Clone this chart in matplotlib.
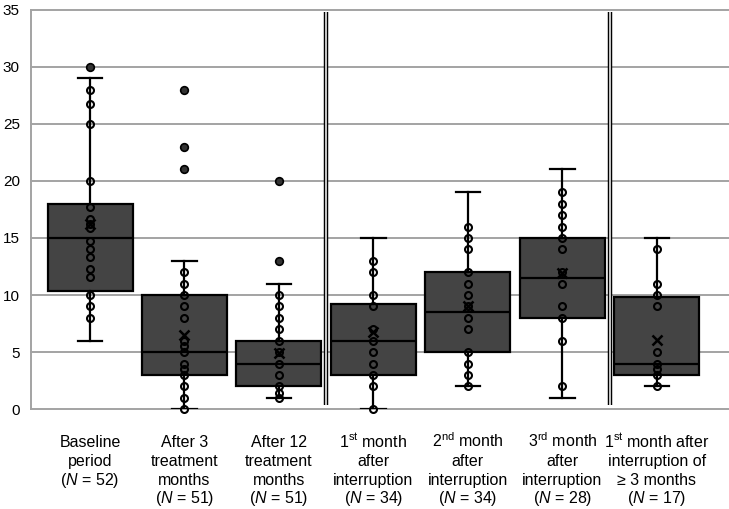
import numpy as np
import matplotlib
matplotlib.use("Agg")
import matplotlib.pyplot as plt

plt.rcParams["font.family"] = ["Liberation Sans", "DejaVu Sans"]
plt.rcParams["mathtext.fontset"] = "custom"
plt.rcParams["mathtext.rm"] = "Liberation Sans"
plt.rcParams["mathtext.it"] = "Liberation Sans:italic"

labels = [
    "Baseline\nperiod\n($N$ = 52)",
    "After 3\ntreatment\nmonths\n($N$ = 51)",
    "After 12\ntreatment\nmonths\n($N$ = 51)",
    "1$^{\\mathrm{st}}$ month\nafter\ninterruption\n($N$ = 34)",
    "2$^{\\mathrm{nd}}$ month\nafter\ninterruption\n($N$ = 34)",
    "3$^{\\mathrm{rd}}$ month\nafter\ninterruption\n($N$ = 28)",
    "1$^{\\mathrm{st}}$ month after\ninterruption of\n\u2265 3 months\n($N$ = 17)",
]

q1 = [10.36, 3, 2, 3, 5, 8, 3]
med = [15, 5, 4, 6, 8.5, 11.5, 4]
q3 = [18, 10, 6, 9.2, 12, 15, 9.8]
whislo = [6, 0, 1, 0, 2, 1, 2]
whishi = [29, 13, 11, 15, 19, 21, 15]
means = [16.2, 6.5, 4.9, 6.8, 9.05, 11.9, 6.1]

points = [
    [28, 26.7, 25, 20, 17.7, 16.7, 16.2, 15.9, 14.7, 14, 13.3, 12.3, 11.6, 10, 9, 8],
    [12, 11, 10, 9, 8, 6, 5.5, 5, 4, 3.5, 3, 2, 1, 0],
    [10, 9, 8, 7, 6, 5, 4, 3, 2, 1.4, 1],
    [13, 12, 10, 9, 7, 6, 5, 4, 3, 2, 0],
    [16, 15, 14, 12, 11, 10, 9, 8, 7, 5, 4, 3, 2],
    [19, 18, 17, 16, 15, 14, 12, 11, 9, 8, 6, 2],
    [14, 11, 10, 9, 5, 4, 3.5, 3, 2],
]
outliers = [[30], [28, 23, 21], [20, 13], [], [], [], []]

separators = [3.5, 6.5]

fig = plt.figure(figsize=(7.29, 5.09), dpi=100)
ax = fig.add_axes([0.0425, 0.196, 0.957, 0.785])

pos = np.arange(1, 8)
stats = []
for i in range(7):
    stats.append(dict(q1=q1[i], med=med[i], q3=q3[i], whislo=whislo[i],
                      whishi=whishi[i], mean=means[i], fliers=[]))

ax.bxp(stats, positions=pos, widths=0.9, patch_artist=True, showmeans=False,
       capwidths=0.26,
       boxprops=dict(facecolor="#444444", edgecolor="black", linewidth=1.6),
       medianprops=dict(color="black", linewidth=1.6),
       whiskerprops=dict(color="black", linewidth=1.6),
       capprops=dict(color="black", linewidth=1.6),
       manage_ticks=False, zorder=3)

for i in range(7):
    ax.plot([pos[i]] * len(points[i]), points[i], "o", ms=5, mfc="none",
            mec="black", mew=1.5, zorder=5, clip_on=False)
    if outliers[i]:
        ax.plot([pos[i]] * len(outliers[i]), outliers[i], "o", ms=5.5,
                mfc="#333333", mec="black", mew=1.2, zorder=5)
    ax.plot(pos[i], means[i], "x", ms=7.5, mec="black", mew=1.8, zorder=6)

for y in range(0, 36, 5):
    ax.axhline(y, color="#a3a3a3", lw=1.4, zorder=1, clip_on=False)

for s in separators:
    ax.plot([s, s], [0.4, 34.8], color="black", lw=3.2, zorder=4,
            solid_capstyle="butt")
    ax.plot([s, s], [0.4, 34.8], color="white", lw=1.1, zorder=4.5,
            solid_capstyle="butt")

ax.set_xlim(0.375, 7.76)
ax.set_ylim(0, 35)
ax.set_yticks(range(0, 36, 5))
ax.set_xticks(pos)
ax.set_xticklabels([])
ax.tick_params(axis="x", length=0)
ax.tick_params(axis="y", length=0, pad=8, labelsize=11)

# category labels, one line at a time so superscripts don't push lines apart
for i, lab in enumerate(labels):
    for k, line in enumerate(lab.split("\n")):
        ax.annotate(line, xy=(pos[i], 0), xycoords=("data", "axes fraction"),
                    xytext=(0, -37.5 - 18.9 * k), textcoords="offset pixels",
                    ha="center", va="baseline", fontsize=11.5)

for side in ["top", "right", "bottom"]:
    ax.spines[side].set_visible(False)
ax.spines["left"].set_color("#a3a3a3")
ax.spines["left"].set_linewidth(1.4)

fig.savefig("out.png", dpi=100)
